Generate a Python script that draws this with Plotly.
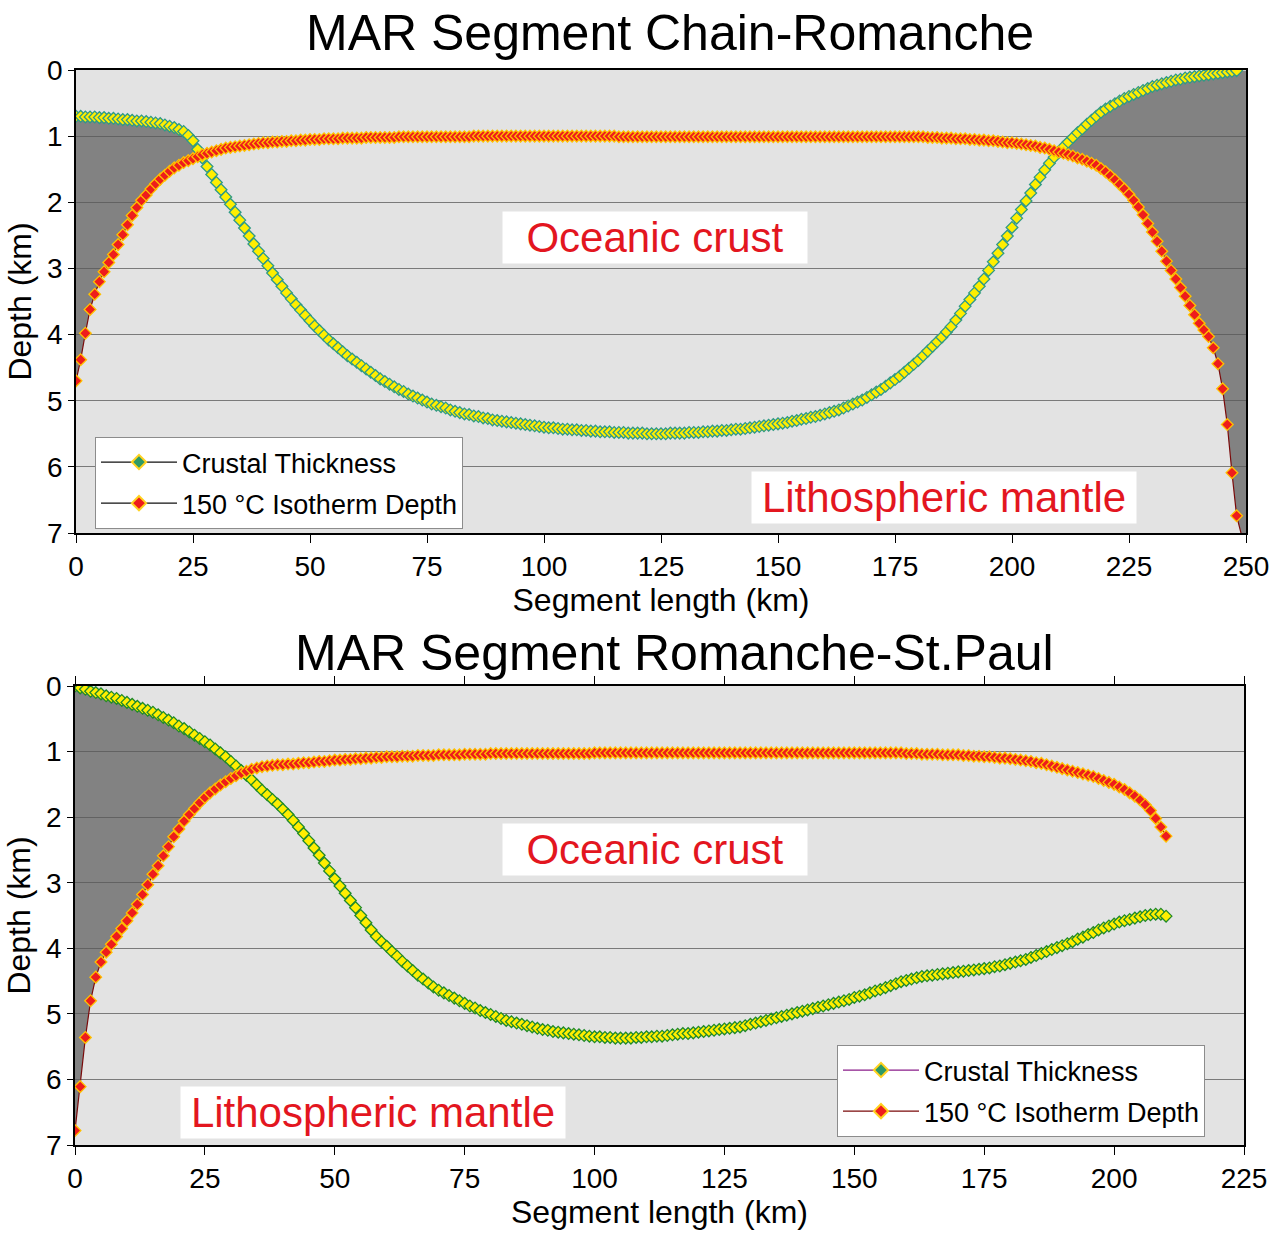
import numpy as np
import plotly.graph_objects as go

# ---------------- data ----------------
TOP_KM = list(range(0, 249))
TOP_CRUST = [
    0.70, 0.70, 0.71, 0.71, 0.71, 0.72, 0.72, 0.73, 0.73, 0.74,
    0.75, 0.75, 0.76, 0.77, 0.77, 0.78, 0.79, 0.80, 0.81, 0.83,
    0.85, 0.87, 0.90, 0.93, 0.99, 1.07, 1.20, 1.33, 1.46, 1.58,
    1.70, 1.81, 1.92, 2.03, 2.15, 2.27, 2.39, 2.51, 2.63, 2.74,
    2.85, 2.96, 3.07, 3.17, 3.27, 3.37, 3.46, 3.55, 3.63, 3.71,
    3.79, 3.87, 3.94, 4.01, 4.08, 4.14, 4.20, 4.26, 4.32, 4.37,
    4.42, 4.47, 4.52, 4.57, 4.62, 4.67, 4.71, 4.75, 4.79, 4.83,
    4.86, 4.90, 4.93, 4.96, 4.99, 5.02, 5.05, 5.07, 5.09, 5.11,
    5.14, 5.16, 5.18, 5.20, 5.21, 5.23, 5.24, 5.26, 5.27, 5.29,
    5.30, 5.31, 5.32, 5.33, 5.34, 5.35, 5.36, 5.37, 5.38, 5.39,
    5.40, 5.41, 5.41, 5.42, 5.43, 5.43, 5.44, 5.44, 5.45, 5.45,
    5.46, 5.46, 5.47, 5.47, 5.47, 5.48, 5.48, 5.48, 5.49, 5.49,
    5.49, 5.49, 5.50, 5.50, 5.50, 5.50, 5.50, 5.49, 5.49, 5.49,
    5.49, 5.48, 5.48, 5.48, 5.47, 5.47, 5.46, 5.46, 5.45, 5.45,
    5.44, 5.43, 5.43, 5.42, 5.41, 5.40, 5.39, 5.38, 5.37, 5.36,
    5.35, 5.34, 5.33, 5.31, 5.30, 5.28, 5.27, 5.25, 5.24, 5.22,
    5.20, 5.18, 5.16, 5.14, 5.11, 5.08, 5.05, 5.02, 4.99, 4.95,
    4.91, 4.87, 4.83, 4.78, 4.73, 4.68, 4.63, 4.57, 4.51, 4.45,
    4.39, 4.32, 4.25, 4.18, 4.11, 4.04, 3.96, 3.88, 3.78, 3.68,
    3.57, 3.47, 3.37, 3.27, 3.16, 3.03, 2.90, 2.77, 2.64, 2.51,
    2.38, 2.24, 2.11, 1.98, 1.86, 1.73, 1.62, 1.51, 1.41, 1.32,
    1.24, 1.16, 1.09, 1.02, 0.95, 0.89, 0.82, 0.76, 0.70, 0.64,
    0.59, 0.55, 0.51, 0.47, 0.43, 0.40, 0.37, 0.34, 0.31, 0.28,
    0.25, 0.23, 0.21, 0.19, 0.17, 0.15, 0.14, 0.12, 0.11, 0.10,
    0.09, 0.08, 0.07, 0.06, 0.05, 0.04, 0.03, 0.02, 0.01,
]
TOP_ISO_KM = list(range(0, 249)) + [250]
TOP_ISO = [
    4.70, 4.38, 3.98, 3.62, 3.39, 3.20, 3.05, 2.91, 2.79, 2.64,
    2.49, 2.34, 2.20, 2.08, 1.97, 1.89, 1.80, 1.72, 1.65, 1.59,
    1.53, 1.48, 1.44, 1.40, 1.37, 1.34, 1.31, 1.28, 1.26, 1.24,
    1.22, 1.20, 1.18, 1.17, 1.16, 1.15, 1.14, 1.13, 1.12, 1.11,
    1.10, 1.10, 1.09, 1.09, 1.08, 1.08, 1.07, 1.07, 1.06, 1.06,
    1.05, 1.05, 1.05, 1.04, 1.04, 1.04, 1.04, 1.03, 1.03, 1.03,
    1.03, 1.03, 1.02, 1.02, 1.02, 1.02, 1.02, 1.02, 1.02, 1.01,
    1.01, 1.01, 1.01, 1.01, 1.01, 1.01, 1.01, 1.01, 1.01, 1.01,
    1.01, 1.01, 1.01, 1.01, 1.01, 1.00, 1.00, 1.00, 1.00, 1.00,
    1.00, 1.00, 1.00, 1.00, 1.00, 1.00, 1.00, 1.00, 1.00, 1.00,
    1.00, 1.00, 1.00, 1.00, 1.00, 1.00, 1.00, 1.00, 1.00, 1.00,
    1.00, 1.00, 1.00, 1.00, 1.00, 1.00, 1.01, 1.01, 1.01, 1.01,
    1.01, 1.01, 1.01, 1.01, 1.01, 1.01, 1.01, 1.01, 1.01, 1.01,
    1.01, 1.01, 1.01, 1.01, 1.01, 1.01, 1.01, 1.01, 1.01, 1.01,
    1.01, 1.01, 1.01, 1.01, 1.01, 1.01, 1.01, 1.01, 1.01, 1.01,
    1.01, 1.01, 1.01, 1.01, 1.01, 1.01, 1.01, 1.01, 1.01, 1.01,
    1.01, 1.01, 1.01, 1.01, 1.01, 1.01, 1.01, 1.01, 1.01, 1.01,
    1.01, 1.01, 1.01, 1.01, 1.01, 1.01, 1.01, 1.01, 1.01, 1.01,
    1.01, 1.01, 1.02, 1.02, 1.02, 1.03, 1.03, 1.03, 1.04, 1.04,
    1.04, 1.05, 1.05, 1.06, 1.06, 1.07, 1.07, 1.08, 1.09, 1.10,
    1.10, 1.11, 1.12, 1.13, 1.14, 1.15, 1.17, 1.18, 1.20, 1.22,
    1.24, 1.26, 1.28, 1.30, 1.33, 1.35, 1.38, 1.41, 1.44, 1.49,
    1.54, 1.60, 1.66, 1.73, 1.80, 1.88, 1.97, 2.07, 2.19, 2.32,
    2.45, 2.59, 2.74, 2.89, 3.03, 3.16, 3.29, 3.42, 3.56, 3.70,
    3.83, 3.93, 4.03, 4.20, 4.44, 4.82, 5.36, 6.09, 6.74, 7.30,
]

BOT_KM = list(range(0, 211))
BOT_CRUST = [
    0.00, 0.03, 0.05, 0.08, 0.10, 0.12, 0.15, 0.17, 0.19, 0.22,
    0.25, 0.28, 0.31, 0.34, 0.37, 0.40, 0.44, 0.48, 0.52, 0.56,
    0.61, 0.65, 0.70, 0.75, 0.80, 0.85, 0.90, 0.96, 1.02, 1.08,
    1.15, 1.22, 1.29, 1.36, 1.43, 1.51, 1.59, 1.66, 1.73, 1.80,
    1.88, 1.96, 2.05, 2.15, 2.25, 2.36, 2.47, 2.58, 2.70, 2.82,
    2.94, 3.05, 3.16, 3.27, 3.38, 3.50, 3.61, 3.72, 3.82, 3.90,
    3.97, 4.05, 4.12, 4.20, 4.27, 4.34, 4.41, 4.47, 4.53, 4.59,
    4.64, 4.68, 4.72, 4.76, 4.80, 4.84, 4.88, 4.91, 4.95, 4.98,
    5.01, 5.04, 5.07, 5.10, 5.12, 5.14, 5.16, 5.18, 5.20, 5.22,
    5.24, 5.25, 5.27, 5.28, 5.29, 5.30, 5.31, 5.32, 5.33, 5.34,
    5.35, 5.35, 5.36, 5.36, 5.37, 5.37, 5.37, 5.37, 5.36, 5.36,
    5.35, 5.35, 5.34, 5.34, 5.33, 5.32, 5.31, 5.30, 5.30, 5.29,
    5.28, 5.27, 5.26, 5.25, 5.24, 5.23, 5.22, 5.21, 5.20, 5.18,
    5.16, 5.14, 5.12, 5.10, 5.08, 5.06, 5.04, 5.02, 5.00, 4.98,
    4.96, 4.94, 4.92, 4.90, 4.88, 4.86, 4.84, 4.82, 4.80, 4.78,
    4.75, 4.73, 4.71, 4.68, 4.65, 4.63, 4.60, 4.57, 4.54, 4.51,
    4.49, 4.47, 4.45, 4.43, 4.42, 4.41, 4.40, 4.39, 4.38, 4.37,
    4.36, 4.35, 4.34, 4.33, 4.32, 4.31, 4.30, 4.28, 4.27, 4.25,
    4.23, 4.21, 4.19, 4.17, 4.14, 4.11, 4.08, 4.05, 4.02, 3.99,
    3.96, 3.93, 3.90, 3.86, 3.83, 3.79, 3.76, 3.72, 3.69, 3.66,
    3.63, 3.60, 3.58, 3.56, 3.54, 3.52, 3.50, 3.49, 3.48, 3.48,
    3.51,
]
BOT_ISO = [
    6.78, 6.11, 5.36, 4.80, 4.44, 4.21, 4.06, 3.94, 3.82, 3.70,
    3.58, 3.46, 3.33, 3.18, 3.03, 2.87, 2.74, 2.59, 2.45, 2.30,
    2.18, 2.06, 1.96, 1.87, 1.78, 1.70, 1.63, 1.57, 1.51, 1.46,
    1.41, 1.37, 1.33, 1.30, 1.27, 1.25, 1.23, 1.22, 1.21, 1.20,
    1.20, 1.19, 1.19, 1.18, 1.17, 1.17, 1.16, 1.15, 1.15, 1.14,
    1.13, 1.13, 1.12, 1.12, 1.11, 1.11, 1.10, 1.10, 1.09, 1.09,
    1.08, 1.08, 1.08, 1.07, 1.07, 1.07, 1.06, 1.06, 1.06, 1.06,
    1.05, 1.05, 1.05, 1.05, 1.05, 1.04, 1.04, 1.04, 1.04, 1.04,
    1.03, 1.03, 1.03, 1.03, 1.03, 1.03, 1.03, 1.03, 1.03, 1.03,
    1.03, 1.03, 1.03, 1.03, 1.03, 1.03, 1.03, 1.03, 1.03, 1.03,
    1.02, 1.02, 1.02, 1.02, 1.02, 1.02, 1.02, 1.02, 1.02, 1.02,
    1.02, 1.02, 1.02, 1.02, 1.02, 1.02, 1.02, 1.02, 1.02, 1.02,
    1.02, 1.02, 1.02, 1.02, 1.02, 1.02, 1.02, 1.02, 1.02, 1.02,
    1.02, 1.02, 1.02, 1.02, 1.02, 1.02, 1.02, 1.02, 1.02, 1.02,
    1.02, 1.02, 1.02, 1.02, 1.02, 1.02, 1.02, 1.02, 1.02, 1.02,
    1.02, 1.02, 1.02, 1.02, 1.02, 1.02, 1.02, 1.02, 1.02, 1.02,
    1.03, 1.03, 1.03, 1.04, 1.04, 1.04, 1.04, 1.05, 1.05, 1.05,
    1.05, 1.06, 1.06, 1.07, 1.07, 1.08, 1.08, 1.09, 1.10, 1.10,
    1.11, 1.12, 1.13, 1.14, 1.15, 1.17, 1.18, 1.20, 1.22, 1.24,
    1.26, 1.28, 1.30, 1.32, 1.34, 1.36, 1.38, 1.41, 1.44, 1.47,
    1.50, 1.54, 1.58, 1.63, 1.68, 1.74, 1.81, 1.90, 2.02, 2.15,
    2.29,
]

TITLES = ["MAR Segment Chain-Romanche", "MAR Segment Romanche-St.Paul"]
SERIES_NAMES = ["Crustal Thickness", "150 °C Isotherm Depth"]
X_TITLE = "Segment length (km)"
Y_TITLE = "Depth (km)"
LABEL_CRUST = "Oceanic crust"
LABEL_MANTLE = "Lithospheric mantle"

# ---------------- styling ----------------
FONT = "Arial, Liberation Sans, sans-serif"
W, H = 1283, 1237
BG = "#e3e3e3"
FILL = "rgba(88,88,88,0.70)"
RED_TXT = "#e3161f"

fig = go.Figure()


def add_panel(xa, ya, ckm, crust, ikm, iso, crust_edge, crust_line, legend_name, leg_line_c, leg_line_i):
    # dark-grey area between crust base and 150 °C isotherm where isotherm is deeper
    grid = np.array(ikm, dtype=float)
    upper = np.interp(grid, ckm, crust)
    lower = np.maximum(np.array(iso, dtype=float), upper)
    fig.add_trace(go.Scatter(x=grid, y=upper, mode="lines", line=dict(width=0, color=FILL),
                             showlegend=False, hoverinfo="skip", xaxis=xa, yaxis=ya))
    fig.add_trace(go.Scatter(x=grid, y=lower, mode="lines", line=dict(width=0, color=FILL),
                             fill="tonexty", fillcolor=FILL,
                             showlegend=False, hoverinfo="skip", xaxis=xa, yaxis=ya))
    # crustal thickness
    fig.add_trace(go.Scatter(x=ckm, y=crust, mode="lines+markers", name=SERIES_NAMES[0],
                             line=dict(color=crust_line, width=1),
                             marker=dict(symbol="diamond", size=9, color="#ffee00",
                                         line=dict(color=crust_edge, width=1.3)),
                             showlegend=False, xaxis=xa, yaxis=ya))
    # 150 °C isotherm
    fig.add_trace(go.Scatter(x=ikm, y=iso, mode="lines+markers", name=SERIES_NAMES[1],
                             line=dict(color="#7a0a0a", width=1.2),
                             marker=dict(symbol="diamond", size=9, color="#ee1c1c",
                                         line=dict(color="#ffc000", width=1.3)),
                             showlegend=False, xaxis=xa, yaxis=ya))
    # legend proxies (Excel legend keys)
    fig.add_trace(go.Scatter(x=[None], y=[None], mode="lines+markers", name=SERIES_NAMES[0],
                             line=dict(color=leg_line_c, width=1.3),
                             marker=dict(symbol="diamond", size=11, color="#2e9a66",
                                         line=dict(color="#ffd21f", width=2)),
                             legend=legend_name, legendgroup=legend_name + "a",
                             xaxis=xa, yaxis=ya))
    fig.add_trace(go.Scatter(x=[None], y=[None], mode="lines+markers", name=SERIES_NAMES[1],
                             line=dict(color=leg_line_i, width=1.3),
                             marker=dict(symbol="diamond", size=11, color="#ee1c1c",
                                         line=dict(color="#ffd21f", width=2)),
                             legend=legend_name, legendgroup=legend_name + "b",
                             xaxis=xa, yaxis=ya))


add_panel("x", "y", TOP_KM, TOP_CRUST, TOP_ISO_KM, TOP_ISO, "#2f9a86", "#2f6f60",
          "legend", "#111111", "#111111")
add_panel("x2", "y2", BOT_KM, BOT_CRUST, BOT_KM, BOT_ISO, "#1f8a2a", "#1f6a20",
          "legend2", "#8a1c8a", "#7a0a0a")


def xaxis_cfg(rng, dom, anchor, mirror):
    return dict(domain=dom, anchor=anchor, range=rng, tick0=0, dtick=25,
                ticks="outside", ticklen=8, tickwidth=1.2, tickcolor="black",
                showline=True, linecolor="black", linewidth=1.5, mirror=mirror,
                showgrid=False, zeroline=False, automargin=False,
                tickfont=dict(size=28, family=FONT, color="black"),
                title=dict(text=X_TITLE, font=dict(size=32, family=FONT, color="black"), standoff=4))


def yaxis_cfg(dom, anchor):
    return dict(domain=dom, anchor=anchor, range=[7, 0], tick0=0, dtick=1,
                ticks="outside", ticklen=6, tickwidth=1.2, tickcolor="black",
                showline=True, linecolor="black", linewidth=1.5, mirror=True,
                showgrid=True, gridcolor="#7a7a7a", gridwidth=1, zeroline=False,
                automargin=False,
                tickfont=dict(size=28, family=FONT, color="black"),
                title=dict(text=Y_TITLE, font=dict(size=32, family=FONT, color="black"), standoff=6))


legend_common = dict(xanchor="left", yanchor="top", bgcolor="white", bordercolor="#8c8c8c",
                     borderwidth=1, font=dict(size=27, family=FONT, color="black"),
                     itemwidth=76, tracegroupgap=3)

fig.update_layout(
    width=W, height=H, autosize=False,
    margin=dict(l=0, r=0, t=0, b=0, pad=0),
    paper_bgcolor="white", plot_bgcolor=BG,
    font=dict(family=FONT, color="black"),
    xaxis=xaxis_cfg([0, 250], [76 / W, 1246 / W], "y", True),
    yaxis=yaxis_cfg([1 - 533 / H, 1 - 70 / H], "x"),
    xaxis2=xaxis_cfg([0, 225], [75 / W, 1244 / W], "y2", "ticks"),
    yaxis2=yaxis_cfg([1 - 1145 / H, 1 - 686 / H], "x2"),
    legend=dict(x=95 / W, y=1 - 437 / H, **legend_common),
    legend2=dict(x=837 / W, y=1 - 1045 / H, **legend_common),
    showlegend=True,
)

ann = []
ann.append(dict(text=TITLES[0], x=670 / W, y=1 - 33 / H, xref="paper", yref="paper",
                showarrow=False, xanchor="center", yanchor="middle",
                font=dict(size=50, family=FONT, color="black")))
ann.append(dict(text=TITLES[1], x=674 / W, y=1 - 653 / H, xref="paper", yref="paper",
                showarrow=False, xanchor="center", yanchor="middle",
                font=dict(size=50, family=FONT, color="black")))


def red_label(text, x, y, xr, yr, width):
    return dict(text=text, x=x, y=y, xref=xr, yref=yr, showarrow=False,
                xanchor="center", yanchor="middle", bgcolor="white", borderpad=2,
                width=width, font=dict(size=42, family=FONT, color=RED_TXT))


ann.append(red_label(LABEL_CRUST, 123.7, 2.53, "x", "y", 300))
ann.append(red_label(LABEL_MANTLE, 185.5, 6.47, "x", "y", 380))
ann.append(red_label(LABEL_CRUST, 111.6, 2.49, "x2", "y2", 300))
ann.append(red_label(LABEL_MANTLE, 57.4, 6.51, "x2", "y2", 380))
fig.update_layout(annotations=ann)

fig.write_html("out.html")
